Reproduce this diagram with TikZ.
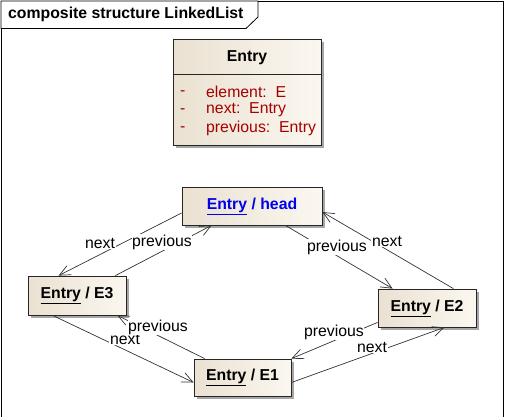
\documentclass[tikz,border=0pt]{standalone}
\usepackage{fontspec}
\setmainfont{Liberation Sans}
\usetikzlibrary{arrows.meta,shadows,calc}
\definecolor{boxL}{RGB}{234,225,209}
\definecolor{boxR}{RGB}{251,247,240}
\definecolor{attr}{RGB}{165,0,0}
\definecolor{hlink}{RGB}{0,0,235}
\begin{document}
\begin{tikzpicture}[x=1pt,y=-1pt,
  every node/.style={font=\fontsize{15.8}{18}\selectfont},
  box/.style={draw=black!85, line width=0.8pt, left color=boxL, right color=boxR,
    drop shadow={shadow xshift=3pt,shadow yshift=-3pt,fill=black!50,opacity=0.7},
    inner sep=0pt, font=\fontsize{15.8}{18}\selectfont\bfseries},
  conn/.style={draw=black!80, line width=0.7pt, -{Straight Barb[length=11pt,width=10pt]}},
  lbl/.style={fill=white, inner sep=0.6pt},
  attrtxt/.style={text=attr, anchor=west, inner sep=0pt}
]
\useasboundingbox (0,0) rectangle (506,416);
% frame
\draw[line width=0.8pt] (1,1) rectangle (503.5,440);
\draw[line width=0.8pt, fill=white] (1,1) -- (258,1) -- (258,17) -- (246,28.5) -- (1,28.5) -- cycle;
\node[anchor=west, inner sep=0pt, font=\fontsize{15.8}{18}\selectfont\bfseries] (title) at (8,14.5) {composite structure LinkedList};

% class box
\node[box, minimum width=148pt, minimum height=106pt] (cls) at (247,92) {};
\draw[draw=black!85, line width=0.8pt] (cls.west |- 0,74) -- (cls.east |- 0,74);
\node[font=\fontsize{15.8}{18}\selectfont\bfseries, inner sep=0pt] (clsname) at (247,58) {Entry};
\node[attrtxt] (d1) at (180,93) {-};
\node[attrtxt] (d2) at (180,111) {-};
\node[attrtxt] (d3) at (180,129) {-};
\node[attrtxt] (a1) at (206,92) {element:\ \ E};
\node[attrtxt] (a2) at (206,110) {next:\ \ Entry};
\node[attrtxt] (a3) at (206,128) {previous:\ \ Entry};

% objects
\node[box, minimum width=140pt, minimum height=38pt, text=hlink] (head) at (252,206)
  {\underline{\textcolor{hlink}{Entry}} / head};
\node[box, minimum width=98pt, minimum height=39pt] (E3) at (77,295.5) {\underline{Entry} / E3};
\node[box, minimum width=98pt, minimum height=38pt] (E2) at (427,308) {\underline{Entry} / E2};
\node[box, minimum width=97pt, minimum height=37pt] (E1) at (242.5,377.5) {\underline{Entry} / E1};

% connectors
\draw[conn] ($(head.west)+(0,7)$) -- ($(E3.north west)+(31,0)$) node[lbl, at={(100,243)}] {next};
\draw[conn] ($(E3.north east)+(-11,0)$) -- ($(head.south west)+(30,0)$) node[lbl, at={(162,242)}] {previous};
\draw[conn] ($(head.south east)+(-37,0)$) -- ($(E2.north west)+(15,0)$) node[lbl, at={(337,247)}] {previous};
\draw[conn] ($(E2.north east)+(-23,0)$) -- ($(head.east)+(0,6)$) node[lbl, at={(387,241)}] {next};
\draw[conn] ($(E3.south west)+(25,0)$) -- ($(E1.west)+(0,5)$) node[lbl, at={(125,339)}] {next};
\draw[conn] ($(E1.north west)+(11,0)$) -- ($(E3.south east)+(-9,0)$) node[lbl, at={(158,327)}] {previous};
\draw[conn] ($(E1.east)+(0,5)$) -- ($(E2.south east)+(-32,0)$) node[lbl, at={(372,347)}] {next};
\draw[conn] ($(E2.south west)+(0,-5)$) -- (E1.north east) node[lbl, at={(334,332)}] {previous};
\end{tikzpicture}
\end{document}
